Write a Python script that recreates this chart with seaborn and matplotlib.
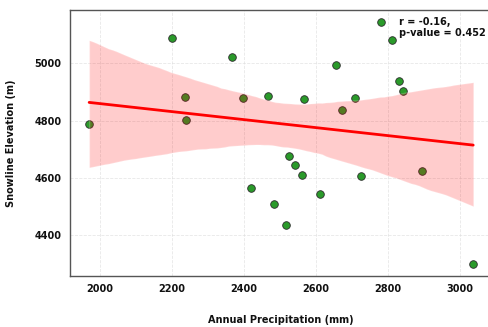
import matplotlib
matplotlib.use('Agg')
import matplotlib.pyplot as plt
import seaborn as sns
import pandas as pd
import numpy as np

# Données
precip = [1970, 2201, 2235, 2240, 2366, 2397, 2420, 2468, 2483, 2517, 2525, 2543, 2562,
          2567, 2610, 2655, 2672, 2709, 2725, 2780, 2812, 2831, 2842, 2894, 3037]
snowline = [4789, 5087, 4884, 4802, 5021, 4880, 4567, 4887, 4509, 4438, 4678, 4646, 4612,
            4875, 4545, 4994, 4837, 4879, 4606, 5143, 5081, 4939, 4902, 4624, 4301]
r_text = 'r = -0.16,\np-value = 0.452'

# bornes de l'intervalle de confiance lues aux extrémités (gauche haut/bas, droite haut/bas)
band_ends = [5104, 4620, 4916, 4512]

df = pd.DataFrame({'precip': precip, 'snowline': snowline})

sns.set_style('whitegrid')
plt.rcParams['text.color'] = '#111111'
plt.rcParams['axes.labelcolor'] = '#111111'
plt.rcParams['xtick.color'] = '#111111'
plt.rcParams['ytick.color'] = '#111111'


# Choisir la graine du bootstrap qui ressemble le plus à la bande de l'original
def band_error(seed):
    f, a = plt.subplots()
    sns.regplot(data=df, x='precip', y='snowline', ax=a, seed=seed, scatter=False)
    v = a.collections[-1].get_paths()[0].vertices
    plt.close(f)
    xs = v[:, 0]
    left = v[xs == xs.min(), 1]
    right = v[xs == xs.max(), 1]
    got = [left.max(), left.min(), right.max(), right.min()]
    return sum(abs(g - t) for g, t in zip(got, band_ends))


best_seed = min(range(40), key=band_error)

fig = plt.figure(figsize=(4.89, 3.27), dpi=100)
ax = fig.add_axes([0.143, 0.156, 0.864, 0.813])

sns.regplot(data=df, x='precip', y='snowline', ax=ax, seed=best_seed,
            scatter_kws={'s': 30, 'color': '#2a9a2a', 'edgecolor': '#2b2b2b',
                         'linewidths': 0.6, 'alpha': 1},
            line_kws={'color': 'red', 'lw': 2})
ax.collections[-1].set_alpha(0.2)

ax.text(0.778, 0.975, r_text, transform=ax.transAxes, ha='left', va='top',
        fontsize=7, fontweight='bold')

ax.set_xlabel('Annual Precipitation (mm)', fontsize=7, fontweight='bold', labelpad=15)
ax.set_ylabel('Snowline Elevation (m)', fontsize=7, fontweight='bold', labelpad=13)
ax.set_xticks([2000, 2200, 2400, 2600, 2800, 3000])
ax.set_yticks([4400, 4600, 4800, 5000])
ax.tick_params(axis='both', labelsize=7, length=3, width=0.8, color='#333333', pad=3)
for lab in ax.get_xticklabels() + ax.get_yticklabels():
    lab.set_fontweight('bold')
ax.grid(True, linestyle='--', linewidth=0.6, color='#dddddd', alpha=0.7)
for sp in ax.spines.values():
    sp.set_color('#555555')
    sp.set_linewidth(1)

fig.savefig('out.png', dpi=100)
